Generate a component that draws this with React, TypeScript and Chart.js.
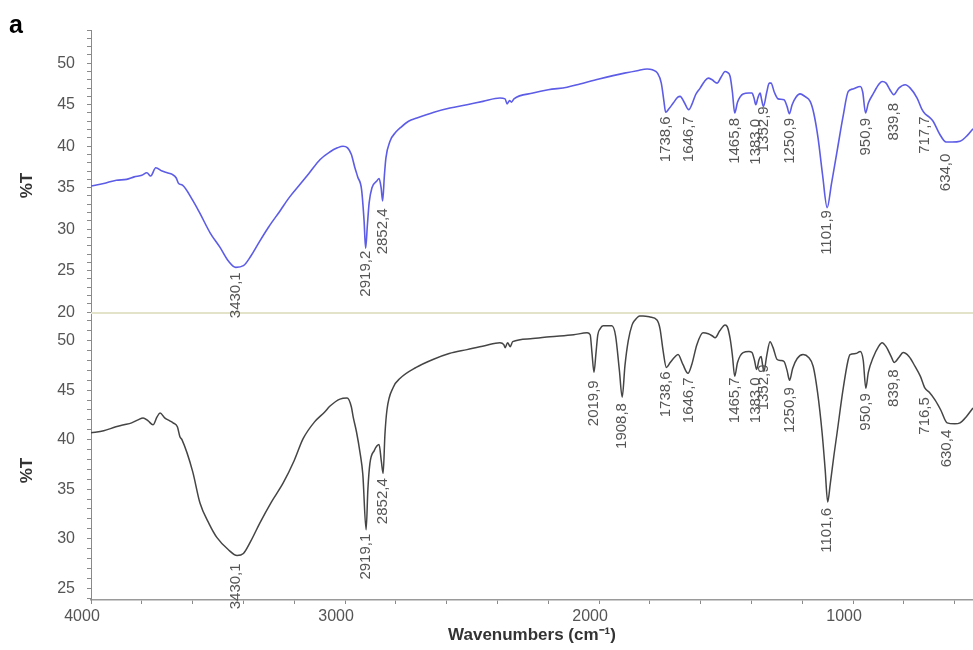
import React, { useEffect, useRef } from 'react';
import { Chart, registerables } from 'chart.js';

Chart.register(...registerables);

// ---- Top spectrum (blue) ----
const topWn = [4000, 3950, 3900, 3860, 3830, 3800, 3780, 3765, 3745, 3720, 3700, 3680, 3665, 3655, 3640, 3600, 3571, 3530, 3492, 3460, 3430, 3400, 3370, 3335, 3300, 3256, 3220, 3177, 3140, 3098, 3060, 3030, 3008, 2990, 2975, 2962, 2950, 2935, 2925, 2919, 2912, 2905, 2894, 2875, 2866, 2858, 2852, 2845, 2839, 2823, 2800, 2783, 2750, 2717, 2650, 2587, 2520, 2457, 2390, 2370, 2362, 2352, 2345, 2335, 2260, 2200, 2126, 2075, 2000, 1945, 1900, 1850, 1811, 1790, 1770, 1755, 1745, 1738, 1725, 1708, 1690, 1681, 1665, 1647, 1635, 1620, 1602, 1585, 1570, 1555, 1535, 1520, 1504, 1495, 1484, 1475, 1466, 1455, 1433, 1410, 1398, 1390, 1383, 1375, 1366, 1360, 1353, 1340, 1330, 1323, 1310, 1295, 1272, 1260, 1251, 1240, 1225, 1209, 1190, 1169, 1155, 1138, 1120, 1102, 1085, 1063, 1040, 1019, 1000, 972, 962, 951, 940, 921, 900, 886, 870, 855, 840, 820, 795, 775, 748, 730, 717, 700, 685, 660, 634, 610, 579, 550, 528];
const topT = [35.2, 35.5, 35.9, 36.0, 36.3, 36.5, 36.8, 36.4, 37.4, 37.0, 36.8, 36.6, 36.2, 35.5, 35.3, 33.5, 31.9, 29.5, 27.8, 26.2, 25.4, 25.6, 26.8, 28.6, 30.3, 32.2, 33.8, 35.4, 36.8, 38.4, 39.3, 39.8, 40.0, 39.8, 39.0, 37.5, 36.3, 34.8, 31.0, 27.7, 30.5, 33.2, 35.0, 35.8, 36.1, 35.0, 33.4, 36.5, 38.6, 40.6, 41.7, 42.2, 43.0, 43.4, 44.1, 44.6, 45.0, 45.4, 45.8, 45.7, 45.1, 45.5, 45.3, 45.7, 46.4, 46.8, 47.1, 47.5, 48.1, 48.5, 48.8, 49.1, 49.3, 49.2, 48.8, 47.6, 45.5, 44.1, 44.5, 45.2, 45.9, 46.0, 45.3, 44.4, 45.0, 46.2, 47.0, 47.8, 48.2, 48.0, 47.6, 48.3, 49.0, 48.9, 48.4, 46.5, 44.0, 45.3, 46.3, 46.4, 46.4, 45.8, 45.0, 45.8, 46.4, 45.6, 44.8, 46.5, 47.6, 47.6, 46.5, 45.7, 45.6, 44.8, 43.9, 45.0, 45.9, 46.3, 46.0, 45.4, 44.0, 41.0, 36.5, 32.6, 35.5, 39.4, 43.5, 46.6, 46.9, 47.2, 46.5, 44.0, 45.2, 46.3, 47.4, 47.8, 47.6, 46.8, 46.2, 47.0, 47.4, 47.0, 45.8, 44.5, 43.9, 43.5, 43.0, 41.5, 40.5, 40.5, 40.6, 41.3, 42.1];

// ---- Bottom spectrum (gray) ----
const botWn = [4000, 3950, 3902, 3870, 3840, 3815, 3795, 3775, 3756, 3740, 3728, 3710, 3690, 3677, 3660, 3650, 3642, 3600, 3571, 3535, 3504, 3460, 3425, 3400, 3370, 3335, 3290, 3244, 3200, 3165, 3120, 3080, 3059, 3020, 2992, 2975, 2968, 2955, 2941, 2930, 2917, 2910, 2902, 2885, 2866, 2857, 2850, 2843, 2835, 2810, 2783, 2720, 2654, 2590, 2520, 2450, 2390, 2375, 2370, 2360, 2350, 2340, 2270, 2193, 2100, 2047, 2035, 2028, 2020, 2012, 2005, 1996, 1984, 1950, 1935, 1920, 1909, 1898, 1885, 1870, 1858, 1840, 1827, 1800, 1772, 1760, 1748, 1735, 1720, 1700, 1689, 1670, 1650, 1635, 1615, 1591, 1570, 1555, 1543, 1525, 1504, 1495, 1484, 1475, 1466, 1455, 1433, 1410, 1398, 1388, 1380, 1370, 1362, 1356, 1351, 1340, 1327, 1315, 1299, 1285, 1272, 1260, 1250, 1238, 1220, 1197, 1175, 1157, 1140, 1122, 1110, 1100, 1090, 1075, 1063, 1040, 1020, 1012, 990, 972, 960, 950, 940, 921, 900, 886, 870, 850, 838, 820, 803, 780, 756, 735, 717, 700, 677, 655, 630, 600, 579, 555, 528];
const botT = [40.7, 40.9, 41.3, 41.5, 41.7, 42.0, 42.2, 41.9, 41.5, 42.3, 42.7, 42.2, 41.9, 41.7, 41.3, 40.3, 40.0, 36.8, 33.6, 31.5, 30.1, 28.9, 28.3, 28.5, 29.8, 31.6, 33.7, 35.6, 37.9, 40.1, 41.8, 42.8, 43.4, 44.1, 44.2, 43.3, 42.3, 40.8, 38.7, 36.5, 30.9, 35.0, 37.6, 38.9, 39.5, 37.8, 36.6, 40.5, 43.0, 45.3, 46.2, 47.3, 48.1, 48.7, 49.1, 49.5, 49.8, 49.6, 49.3, 49.8, 49.4, 49.9, 50.2, 50.4, 50.6, 50.8, 50.6, 48.8, 46.8, 48.8, 50.6, 51.2, 51.5, 51.5, 50.5, 47.0, 44.3, 47.5, 50.0, 51.6, 52.1, 52.5, 52.5, 52.4, 52.1, 51.2, 49.0, 47.3, 47.8, 48.4, 48.6, 47.6, 46.7, 47.6, 49.6, 50.8, 50.7, 50.5, 50.3, 51.0, 51.6, 51.4, 50.2, 48.5, 46.4, 47.8, 48.8, 48.9, 48.8, 48.0, 47.1, 48.1, 48.4, 47.5, 46.9, 48.5, 49.9, 49.3, 48.1, 48.0, 47.9, 47.0, 46.0, 47.2, 48.2, 48.6, 48.3, 47.4, 44.8, 40.7, 37.0, 33.7, 35.5, 38.5, 40.7, 45.0, 48.0, 48.6, 48.7, 48.9, 48.0, 45.2, 46.8, 48.3, 49.4, 49.8, 49.4, 48.4, 47.8, 48.3, 48.8, 48.4, 47.4, 46.4, 45.2, 44.8, 44.0, 43.0, 41.7, 41.6, 41.7, 42.3, 43.2];

// ---- Peak labels ----
const topPeakWn = [3430.1, 2919.2, 2852.4, 1738.6, 1646.7, 1465.8, 1383.0, 1352.9, 1250.9, 1101.9, 950.9, 839.8, 717.7, 634.0];
const topPeakText = ['3430,1', '2919,2', '2852,4', '1738,6', '1646,7', '1465,8', '1383,0', '1352,9', '1250,9', '1101,9', '950,9', '839,8', '717,7', '634,0'];
const topPeakLabelT = [24.8, 27.4, 32.5, 43.6, 43.6, 43.4, 43.3, 44.8, 43.4, 32.3, 43.4, 45.2, 43.6, 39.1];

const botPeakWn = [3430.1, 2919.1, 2852.4, 2019.9, 1908.8, 1738.6, 1646.7, 1465.7, 1383.0, 1352.9, 1250.9, 1101.6, 950.9, 839.8, 716.5, 630.4];
const botPeakText = ['3430,1', '2919,1', '2852,4', '2019,9', '1908,8', '1738,6', '1646,7', '1465,7', '1383,0', '1352,9', '1250,9', '1101,6', '950,9', '839,8', '716,5', '630,4'];
const botPeakLabelT = [27.5, 30.5, 36.1, 46.0, 43.7, 46.9, 46.3, 46.3, 46.3, 47.6, 45.3, 33.1, 44.7, 47.1, 44.3, 41.0];

// ---- Axes ----
const xMin = 528;
const xMax = 4000;
const xTickValues = [4000, 3800, 3600, 3400, 3200, 3000, 2800, 2600, 2400, 2200, 2000, 1800, 1600, 1400, 1200, 1000, 800, 600];
const topYMin = 19.9;
const topYMax = 54;
const botYMin = 23.8;
const botYMax = 52.8;

const FONT = "'Liberation Sans', Arial, sans-serif";

function intTicks(min: number, max: number) {
  const out: { value: number }[] = [];
  for (let v = Math.ceil(min); v <= Math.floor(max); v++) out.push({ value: v });
  return out;
}

const yScaleBase = (min: number, max: number, weight: number) => ({
  type: 'linear' as const,
  position: 'left' as const,
  stack: 'panels',
  stackWeight: weight,
  min,
  max,
  afterBuildTicks: (scale: any) => {
    scale.ticks = intTicks(min, max);
  },
  afterFit: (scale: any) => {
    scale.width = 91;
  },
  ticks: {
    autoSkip: false,
    padding: 12,
    color: '#555',
    font: { family: FONT, size: 16 },
    callback: (v: any) => (Number(v) % 5 === 0 ? String(v) : ''),
  },
  grid: {
    drawOnChartArea: false,
    drawTicks: true,
    tickLength: 4,
    tickColor: '#8a8a8a',
  },
  border: { display: true, color: '#8a8a8a', width: 1 },
});

const labelPlugin = {
  id: 'peakLabels',
  afterDatasetsDraw(chart: any) {
    const { ctx, chartArea, scales } = chart;
    const xs = scales.x;
    const yT = scales.yT;
    const yB = scales.yB;

    // separator line between the two panels
    ctx.save();
    ctx.strokeStyle = '#e3e3c9';
    ctx.lineWidth = 2;
    ctx.beginPath();
    ctx.moveTo(chartArea.left, yB.top);
    ctx.lineTo(chartArea.right, yB.top);
    ctx.stroke();
    ctx.restore();

    const drawSet = (wns: number[], texts: string[], vals: number[], ys: any) => {
      ctx.save();
      ctx.fillStyle = '#555';
      ctx.font = `15px ${FONT}`;
      ctx.textAlign = 'right';
      ctx.textBaseline = 'middle';
      for (let i = 0; i < wns.length; i++) {
        const px = xs.getPixelForValue(wns[i]);
        const py = ys.getPixelForValue(vals[i]);
        ctx.save();
        ctx.translate(px, py);
        ctx.rotate(-Math.PI / 2);
        ctx.fillText(texts[i], 0, 0);
        ctx.restore();
      }
      ctx.restore();
    };
    drawSet(topPeakWn, topPeakText, topPeakLabelT, yT);
    drawSet(botPeakWn, botPeakText, botPeakLabelT, yB);

    // %T titles
    ctx.save();
    ctx.fillStyle = '#333';
    ctx.font = `bold 17px ${FONT}`;
    ctx.textAlign = 'center';
    ctx.textBaseline = 'middle';
    for (const s of [yT, yB]) {
      ctx.save();
      ctx.translate(27, (s.top + s.bottom) / 2 + 14);
      ctx.rotate(-Math.PI / 2);
      ctx.fillText('%T', 0, 0);
      ctx.restore();
    }
    ctx.restore();

    // panel letter
    ctx.save();
    ctx.fillStyle = '#000';
    ctx.font = `bold 25px ${FONT}`;
    ctx.textAlign = 'left';
    ctx.textBaseline = 'alphabetic';
    ctx.fillText('a', 9, 33);
    ctx.restore();
  },
};

export default function App() {
  const ref = useRef<HTMLCanvasElement>(null);

  useEffect(() => {
    if (!ref.current) return;
    const chart = new Chart(ref.current, {
      type: 'line',
      data: {
        datasets: [
          {
            label: 'bottom',
            data: botWn.map((w, i) => ({ x: w, y: botT[i] })),
            yAxisID: 'yB',
            borderColor: '#454545',
            borderWidth: 1.5,
            pointRadius: 0,
            cubicInterpolationMode: 'monotone',
            fill: false,
          },
          {
            label: 'top',
            data: topWn.map((w, i) => ({ x: w, y: topT[i] })),
            yAxisID: 'yT',
            borderColor: '#5c5ce6',
            borderWidth: 1.6,
            pointRadius: 0,
            cubicInterpolationMode: 'monotone',
            fill: false,
          },
        ],
      },
      options: {
        responsive: false,
        animation: false,
        events: [],
        layout: { padding: { top: 30, right: 0, left: 0, bottom: 0 } },
        plugins: { legend: { display: false }, tooltip: { enabled: false } },
        scales: {
          x: {
            type: 'linear',
            reverse: true,
            min: xMin,
            max: xMax,
            afterBuildTicks: (scale: any) => {
              scale.ticks = xTickValues.map((v) => ({ value: v }));
            },
            afterFit: (scale: any) => {
              scale.height = 50;
            },
            ticks: {
              autoSkip: false,
              maxRotation: 0,
              padding: 3,
              labelOffset: -9,
              color: '#555',
              font: { family: FONT, size: 16 },
              callback: (v: any) => (Number(v) % 1000 === 0 ? String(v) : ''),
            },
            grid: {
              drawOnChartArea: false,
              drawTicks: true,
              tickLength: 4,
              tickColor: '#8a8a8a',
            },
            border: { display: true, color: '#9a9a9a', width: 1.5 },
            title: {
              display: true,
              text: 'Wavenumbers (cm⁻¹)',
              color: '#333',
              font: { family: FONT, size: 17, weight: 'bold' },
              padding: { top: 0, bottom: 4 },
            },
          },
          yB: yScaleBase(botYMin, botYMax, 287) as any,
          yT: yScaleBase(topYMin, topYMax, 283) as any,
        },
      },
      plugins: [labelPlugin],
    });
    return () => chart.destroy();
  }, []);

  return (
    <div style={{ position: 'absolute', left: 0, top: 0, width: 973, height: 650, background: '#fff' }}>
      <canvas ref={ref} width={973} height={650} style={{ display: 'block' }} />
    </div>
  );
}
